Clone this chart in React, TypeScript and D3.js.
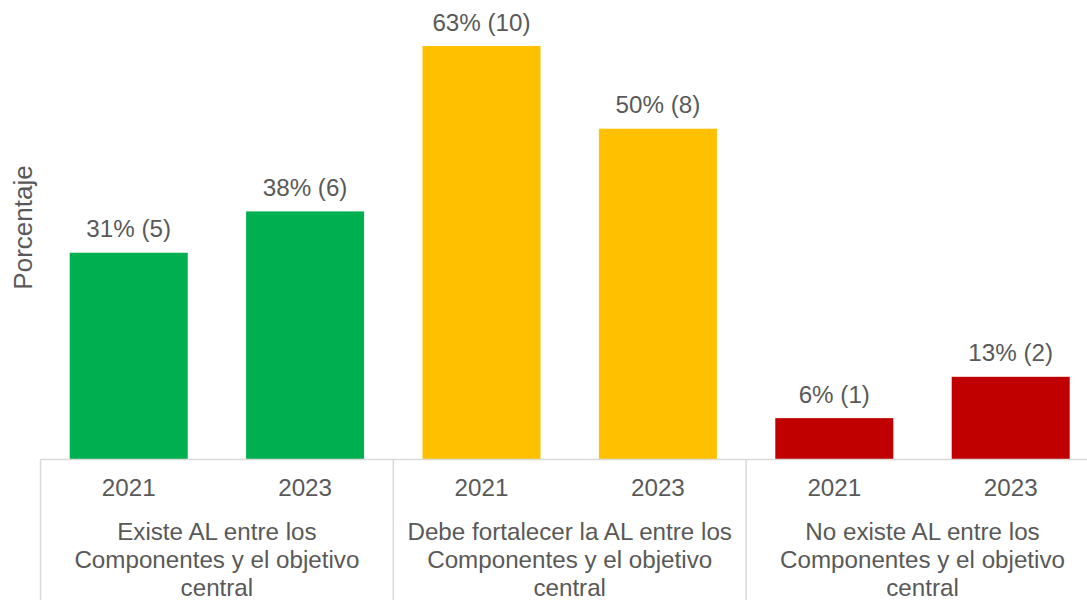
import React from "react";
import * as d3 from "d3";

const groups = ["Existe", "Debe", "NoExiste"];
const groupLabels: string[][] = [
  ["Existe AL entre los", "Componentes y el objetivo", "central"],
  ["Debe fortalecer la AL entre los", "Componentes y el objetivo", "central"],
  ["No existe AL entre los", "Componentes y el objetivo", "central"],
];
const years = ["2021", "2023"];
const groupColors = ["#00B050", "#FFC000", "#C00000"];
// percentages per group, per year
const percents2021 = [31.25, 62.5, 6.25];
const percents2023 = [37.5, 50, 12.5];
const counts2021 = [5, 10, 1];
const counts2023 = [6, 8, 2];

const W = 1087;
const H = 600;
const FONT = "'Liberation Sans', Arial, sans-serif";
const TEXT = "#595959";
const GRID = "#D9D9D9";
const FS = 24.2;

export default function App() {
  const baseY = 459.5;
  const x0 = d3.scaleBand<string>().domain(groups).range([40.5, 1098.9]).padding(0);
  const x1 = d3
    .scaleBand<string>()
    .domain(years)
    .range([0, x0.bandwidth()])
    .paddingInner(0.331)
    .paddingOuter(0.1655);
  const y = d3.scaleLinear().domain([0, 70]).range([baseY, baseY - 70 * 6.616]);

  const rows = groups.map((g, gi) => [
    { g, year: years[0], v: percents2021[gi], n: counts2021[gi], c: groupColors[gi] },
    { g, year: years[1], v: percents2023[gi], n: counts2023[gi], c: groupColors[gi] },
  ]);

  const boundaries = groups.map((g) => x0(g)!).concat([x0(groups[groups.length - 1])! + x0.bandwidth()]);

  return (
    <div style={{ position: "absolute", left: 0, top: 0 }}>
      <svg width={W} height={H} style={{ display: "block", fontFamily: FONT }}>
        <rect width={W} height={H} fill="#fff" />
        {rows.flat().map((d, i) => {
          const bx = x0(d.g)! + x1(d.year)!;
          const bw = x1.bandwidth();
          return (
            <g key={i}>
              <rect x={bx} y={y(d.v)} width={bw} height={baseY - y(d.v)} fill={d.c} />
              <text
                x={bx + bw / 2}
                y={y(d.v) - 15.5}
                textAnchor="middle"
                fontSize={FS}
                fill={TEXT}
              >
                {`${Math.round(d.v)}% (${d.n})`}
              </text>
            </g>
          );
        })}
        <line x1={boundaries[0]} x2={W} y1={baseY} y2={baseY} stroke={GRID} strokeWidth={1.5} />
        {boundaries.map((bx, i) => (
          <line key={i} x1={bx} x2={bx} y1={baseY} y2={H} stroke={GRID} strokeWidth={1.5} />
        ))}
        {rows.flat().map((d, i) => (
          <text
            key={"y" + i}
            x={x0(d.g)! + x1(d.year)! + x1.bandwidth() / 2}
            y={496}
            textAnchor="middle"
            fontSize={FS}
            fill={TEXT}
          >
            {d.year}
          </text>
        ))}
        {groups.map((g, gi) => (
          <text key={g} textAnchor="middle" fontSize={FS} fill={TEXT}>
            {groupLabels[gi].map((line, li) => (
              <tspan key={li} x={x0(g)! + x0.bandwidth() / 2} y={540 + li * 28}>
                {line}
              </tspan>
            ))}
          </text>
        ))}
        <text
          transform={`translate(31.5,${227.5}) rotate(-90)`}
          textAnchor="middle"
          fontSize={26}
          fill={TEXT}
        >
          Porcentaje
        </text>
      </svg>
    </div>
  );
}
